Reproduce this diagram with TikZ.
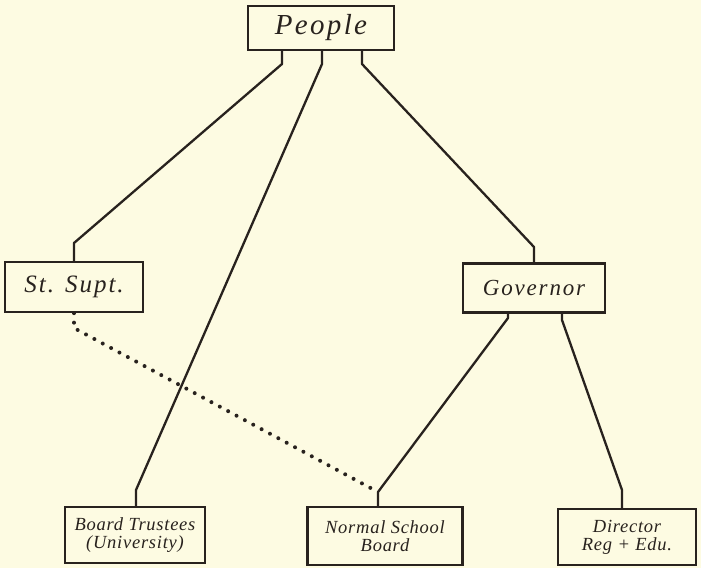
\documentclass[tikz,border=0pt]{standalone}
\usepackage{fontspec}
\setmainfont{Liberation Serif}
\newfontfamily\hand[LetterSpace=8]{Liberation Serif}
\newfontfamily\handsmall[LetterSpace=4]{Liberation Serif}
\definecolor{paper}{RGB}{253,251,226}
\definecolor{ink}{RGB}{40,34,30}
\tikzset{
  orgbox/.style={draw=ink, line width=2.3pt, inner sep=0pt, align=center, text=ink},
  smalllabel/.style={font=\handsmall\itshape\fontsize{18.5}{18}\selectfont},
  link/.style={draw=ink, line width=2.3pt, line join=round},
  dotlink/.style={draw=ink, line width=4pt, line cap=round, dash pattern=on 0pt off 9.5pt},
}
\begin{document}
\begin{tikzpicture}[x=1pt, y=-1pt]
  \fill[paper] (0,0) rectangle (701,568);
  \useasboundingbox (0,0) rectangle (701,568);

  % offices
  \node[orgbox, minimum width=146pt, minimum height=44pt, font=\hand\itshape\fontsize{29}{30}\selectfont] (people) at (321,28) {People};
  \node[orgbox, minimum width=138pt, minimum height=50pt, font=\hand\itshape\fontsize{25}{26}\selectfont] (supt) at (74,287) {St. Supt.};
  \node[orgbox, minimum width=142pt, minimum height=49pt, font=\hand\itshape\fontsize{23}{24}\selectfont] (gov) at (534,288) {Governor};
  \node[orgbox, minimum width=140pt, minimum height=56pt, smalllabel] (trust) at (135,535) {Board Trustees\\(University)};
  \node[orgbox, minimum width=155pt, minimum height=58pt, smalllabel] (normal) at (385,536) {Normal School\\Board};
  \node[orgbox, minimum width=138pt, minimum height=56pt, smalllabel] (dir) at (627,537) {Director\\Reg + Edu.};

  % bends of the connectors
  \coordinate (pl) at (282,64);
  \coordinate (pm) at (322,64);
  \coordinate (pr) at (362,64);
  \coordinate (sk) at (74,243);
  \coordinate (tk) at (136,490);
  \coordinate (gk) at (534,247);
  \coordinate (gl) at (508,318);
  \coordinate (gr) at (562,320);
  \coordinate (nk) at (378,492);
  \coordinate (dk) at (622,490);
  \coordinate (sd) at (74,328);

  % lines of authority
  \draw[link] (people.south -| pl) -- (pl) -- (sk) -- (supt.north -| sk);
  \draw[link] (people.south -| pm) -- (pm) -- (tk) -- (trust.north -| tk);
  \draw[link] (people.south -| pr) -- (pr) -- (gk) -- (gov.north -| gk);
  \draw[link] (gov.south -| gl) -- (gl) -- (nk) -- (normal.north -| nk);
  \draw[link] (gov.south -| gr) -- (gr) -- (dk) -- (dir.north -| dk);

  % advisory relation
  \draw[dotlink] (supt.south) -- (sd) -- (nk);
\end{tikzpicture}
\end{document}
